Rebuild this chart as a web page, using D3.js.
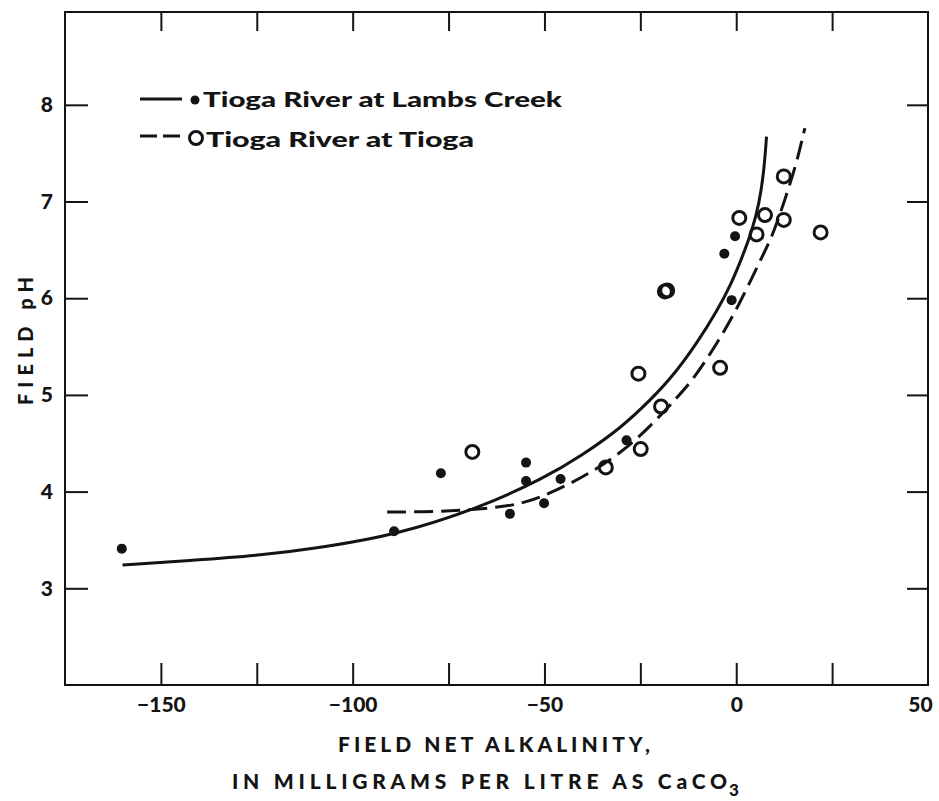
<!DOCTYPE html>
<html>
<head>
<meta charset="utf-8">
<script src="https://cdn.jsdelivr.net/npm/d3@7"></script>
<style>
body { margin: 0; background: #fff; }
svg text { font-family: Lato, "DejaVu Sans", sans-serif; font-weight: 900; fill: #141414; }
</style>
</head>
<body>
<svg id="chart" width="939" height="801"></svg>
<script>
// measured points, Tioga River at Lambs Creek (filled dots)
const lambsAlk = [-160.2, -89.2, -77.0, -54.8, -54.8, -59.0, -50.1, -45.8, -28.6, -1.2, -3.1, -0.3];
const lambsPH  = [3.41, 3.59, 4.19, 4.30, 4.11, 3.77, 3.88, 4.13, 4.53, 5.98, 6.46, 6.64];

// measured points, Tioga River at Tioga (open circles)
const tiogaAlk = [-68.8, -34.0, -24.9, -25.5, -19.6, -4.2, -18.6, -18.0, 0.8, 5.3, 7.5, 12.4, 12.4, 22.0];
const tiogaPH  = [4.41, 4.25, 4.44, 5.22, 4.88, 5.28, 6.07, 6.08, 6.83, 6.66, 6.86, 6.81, 7.26, 6.68];

// hand fitted curves
const lambsCurveAlk = [-160, -141.6, -124, -106.8, -89, -67, -50, -40, -30, -22, -16, -10, -5, -1.5, 1.5, 4.0, 6.0, 7.2, 7.9];
const lambsCurvePH  = [3.24, 3.29, 3.34, 3.43, 3.55, 3.83, 4.14, 4.38, 4.66, 4.96, 5.22, 5.55, 5.87, 6.13, 6.42, 6.68, 6.98, 7.30, 7.67];
const tiogaCurveAlk = [-91, -78, -63, -55, -47, -39, -30, -22.5, -15.5, -11, -4.7, 0.5, 7, 9.6, 12.7, 15.7, 17.9];
const tiogaCurvePH  = [3.79, 3.79, 3.83, 3.88, 4.01, 4.17, 4.40, 4.67, 4.97, 5.17, 5.55, 5.91, 6.45, 6.66, 7.02, 7.39, 7.76];

const xTicks = [-150, -125, -100, -75, -50, -25, 0, 25];
const xLabels = [-150, -100, -50, 0, 50];
const yTicks = [3, 4, 5, 6, 7, 8];

const svg = d3.select("#chart");
const margin = { left: 65, right: 928, top: 12, bottom: 685 };
const ink = "#141414";

const x = d3.scaleLinear().domain([-175, 50]).range([margin.left, margin.right]);
const y = d3.scaleLinear().domain([2, 8.96]).range([margin.bottom, margin.top]);

// frame
svg.append("rect")
    .attr("x", margin.left).attr("y", margin.top)
    .attr("width", margin.right - margin.left).attr("height", margin.bottom - margin.top)
    .attr("fill", "none").attr("stroke", ink).attr("stroke-width", 2);

function styleAxis(g) {
    g.select(".domain").remove();
    g.selectAll(".tick line").attr("stroke", ink).attr("stroke-width", 2);
    g.selectAll("text").attr("font-size", 21).attr("fill", ink)
        .attr("font-family", "Lato, 'DejaVu Sans', sans-serif").attr("font-weight", 900);
}

const fmt = d3.format("d");

svg.append("g")
    .attr("transform", `translate(0,${margin.bottom})`)
    .call(d3.axisBottom(x).tickValues(xTicks).tickSizeInner(-22).tickSizeOuter(0).tickFormat(""))
    .call(styleAxis);
const xLab = svg.append("g")
    .attr("transform", `translate(0,${margin.bottom})`)
    .call(d3.axisBottom(x).tickValues(xLabels).tickSize(0).tickPadding(12).tickFormat(fmt))
    .call(styleAxis);
// last label sits against the right frame, pull it inside the page
xLab.selectAll(".tick").filter(d => d === 50).select("text").attr("dx", -8);

svg.append("g")
    .attr("transform", `translate(0,${margin.top})`)
    .call(d3.axisTop(x).tickValues(xTicks).tickSizeInner(-19).tickSizeOuter(0).tickFormat(""))
    .call(styleAxis);
svg.append("g")
    .attr("transform", `translate(${margin.left},0)`)
    .call(d3.axisLeft(y).tickValues(yTicks).tickSizeInner(-23).tickSizeOuter(0).tickPadding(12).tickFormat(fmt))
    .call(styleAxis);
svg.append("g")
    .attr("transform", `translate(${margin.right},0)`)
    .call(d3.axisRight(y).tickValues(yTicks).tickSizeInner(-21).tickSizeOuter(0).tickFormat(""))
    .call(styleAxis);

// curves
const line = d3.line().x(d => x(d[0])).y(d => y(d[1])).curve(d3.curveBasis);

svg.append("path")
    .datum(d3.zip(lambsCurveAlk, lambsCurvePH))
    .attr("d", line)
    .attr("fill", "none").attr("stroke", ink).attr("stroke-width", 3);

svg.append("path")
    .datum(d3.zip(tiogaCurveAlk, tiogaCurvePH))
    .attr("d", line)
    .attr("fill", "none").attr("stroke", ink).attr("stroke-width", 3)
    .attr("stroke-dasharray", "19 8");

// points
svg.append("g").selectAll("circle")
    .data(d3.zip(lambsAlk, lambsPH))
    .join("circle")
    .attr("cx", d => x(d[0])).attr("cy", d => y(d[1]))
    .attr("r", 5).attr("fill", ink);

svg.append("g").selectAll("circle")
    .data(d3.zip(tiogaAlk, tiogaPH))
    .join("circle")
    .attr("cx", d => x(d[0])).attr("cy", d => y(d[1]))
    .attr("r", 6.5).attr("fill", "none").attr("stroke", ink).attr("stroke-width", 3);

// legend
const legend = svg.append("g");
legend.append("line")
    .attr("x1", 140).attr("x2", 182).attr("y1", 99).attr("y2", 99)
    .attr("stroke", ink).attr("stroke-width", 3);
legend.append("circle").attr("cx", 195).attr("cy", 100).attr("r", 4.5).attr("fill", ink);
legend.append("text")
    .attr("x", 203).attr("y", 107).attr("font-size", 20)
    .attr("textLength", 359).attr("lengthAdjust", "spacingAndGlyphs")
    .text("Tioga River at Lambs Creek");

legend.append("line")
    .attr("x1", 140).attr("x2", 184).attr("y1", 136).attr("y2", 136)
    .attr("stroke", ink).attr("stroke-width", 3).attr("stroke-dasharray", "17 6");
legend.append("circle").attr("cx", 196).attr("cy", 138).attr("r", 6.5)
    .attr("fill", "none").attr("stroke", ink).attr("stroke-width", 3);
legend.append("text")
    .attr("x", 206).attr("y", 147).attr("font-size", 20)
    .attr("textLength", 268).attr("lengthAdjust", "spacingAndGlyphs")
    .text("Tioga River at Tioga");

// axis titles
svg.append("text")
    .attr("x", 338).attr("y", 752).attr("font-size", 21)
    .attr("textLength", 312).attr("lengthAdjust", "spacing")
    .text("FIELD NET ALKALINITY,");
svg.append("text")
    .attr("x", 232).attr("y", 789).attr("font-size", 21)
    .attr("textLength", 495).attr("lengthAdjust", "spacing")
    .text("IN MILLIGRAMS PER LITRE AS CaCO");
svg.append("text")
    .attr("x", 729).attr("y", 796).attr("font-size", 17)
    .text("3");

svg.append("text")
    .attr("transform", "translate(33,405) rotate(-90)")
    .attr("font-size", 20)
    .attr("textLength", 128).attr("lengthAdjust", "spacing")
    .text("FIELD pH");
</script>
</body>
</html>
